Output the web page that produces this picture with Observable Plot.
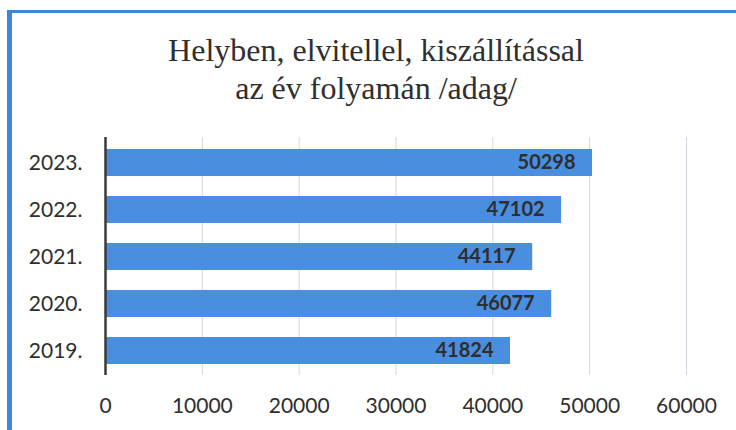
<!DOCTYPE html>
<html><head><meta charset="utf-8">
<script src="https://cdn.jsdelivr.net/npm/d3@7"></script>
<script src="https://cdn.jsdelivr.net/npm/@observablehq/plot@0.6"></script>
<style>
html,body{margin:0;padding:0;background:#fff;}
#wrap{position:relative;width:736px;height:430px;overflow:hidden;background:#fff;}
#frame{position:absolute;left:7px;top:10px;right:-10px;bottom:-10px;border-top:3px solid #3d85e0;border-left:5px solid #3d85e0;pointer-events:none;}
#title{position:relative;height:120px;}
#title div{position:absolute;left:0;top:31px;width:752px;text-align:center;font-family:"Liberation Serif","Times New Roman",serif;font-size:32px;line-height:38px;color:#2f2f2f;}
#chart{position:relative;height:310px;}
</style></head>
<body><div id="wrap">
<div id="frame"></div>
<div id="title"><div>Helyben, elvitellel, kiszállítással<br>az év folyamán /adag/</div></div>
<div id="chart"></div>
</div>
<script>
const years = ["2023.", "2022.", "2021.", "2020.", "2019."];
const values = [50298, 47102, 44117, 46077, 41824];
const xTicks = [0, 10000, 20000, 30000, 40000, 50000, 60000];
const data = years.map((y, i) => ({year: y, value: values[i]}));

const chart = Plot.plot({
  width: 736, height: 310,
  marginTop: 17, marginBottom: 55, marginLeft: 105, marginRight: 50,
  style: {fontFamily: "Lato", fontSize: "21px", color: "#2e2e2e", background: "transparent"},
  x: {domain: [0, 60000], ticks: xTicks, tickFormat: d3.format("d"), label: null, tickSize: 0, tickPadding: 23},
  y: {domain: years, padding: 0, label: null, tickSize: 0, tickPadding: 23},
  marks: [
    Plot.gridX(xTicks.slice(1), {stroke: "#d3d6e0", strokeOpacity: 1}),
    Plot.barX(data, {x: "value", y: "year", fill: "#4a8ee0", insetTop: 10, insetBottom: 10}),
    Plot.ruleX([0], {stroke: "#3a3a3a", strokeWidth: 2.5}),
    Plot.text(data, {x: "value", y: "year", text: d => String(d.value), textAnchor: "end", dx: -17, fontWeight: "bold", fill: "#2e2e2e", fontSize: 20})
  ]
});
document.getElementById("chart").appendChild(chart);
</script>
</body></html>
